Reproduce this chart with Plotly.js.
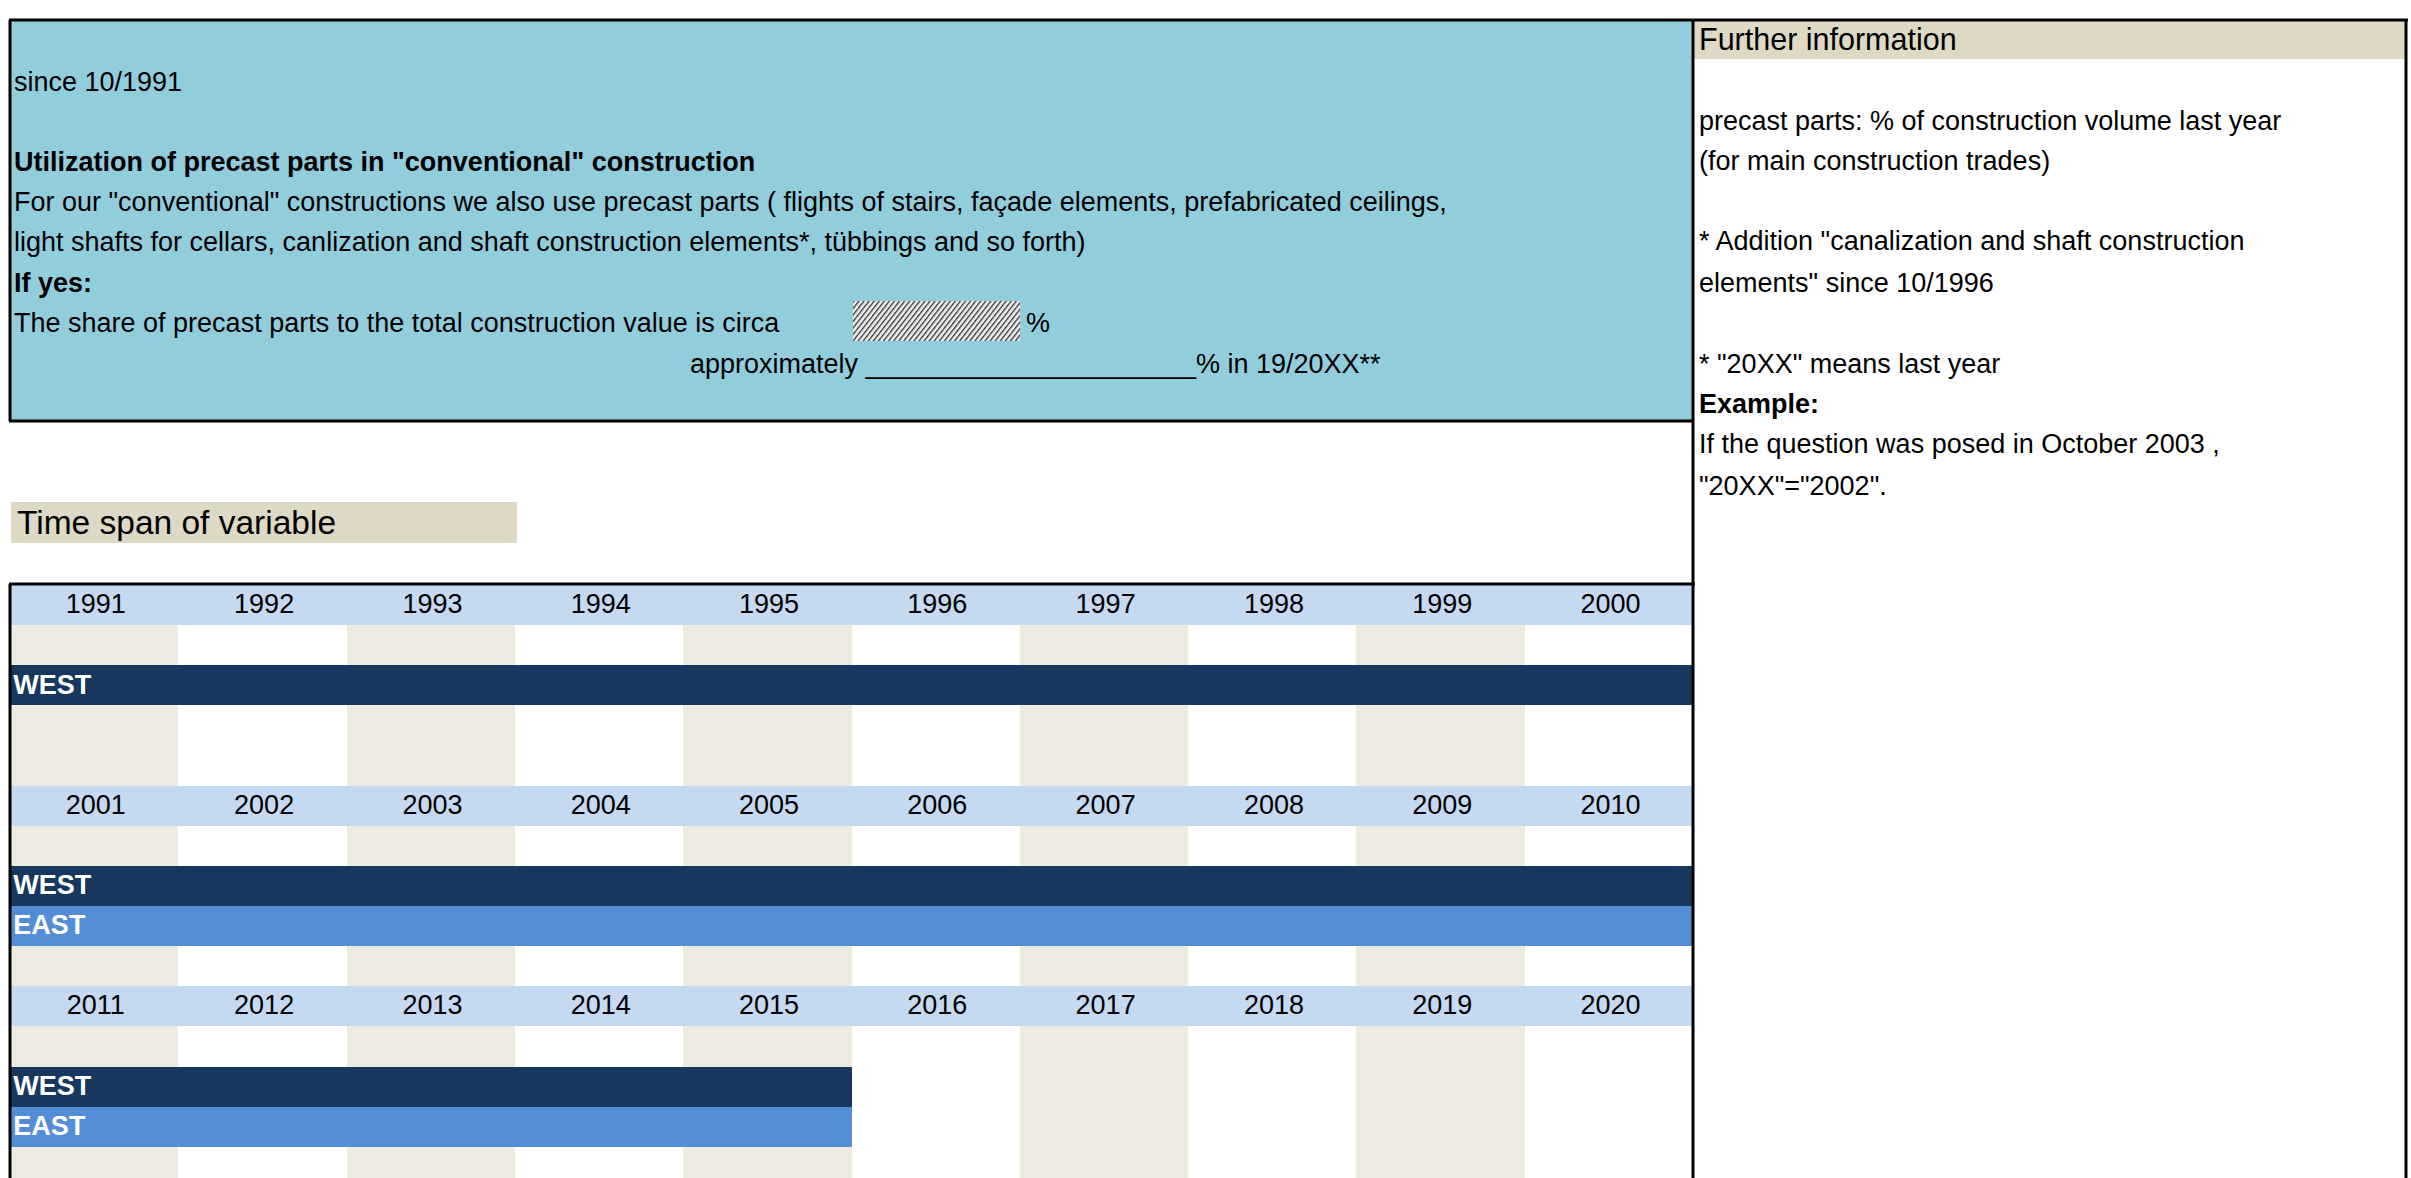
<!DOCTYPE html>
<html>
<head>
<meta charset="utf-8">
<script src="https://cdn.plot.ly/plotly-3.0.1.min.js"></script>
<style>html,body{margin:0;padding:0;background:#fff;}#chart{width:2411px;height:1178px;}</style>
</head>
<body>
<div id="chart"></div>
<script>
// ---- data ----
const yearsBlock1 = ['1991','1992','1993','1994','1995','1996','1997','1998','1999','2000'];
const yearsBlock2 = ['2001','2002','2003','2004','2005','2006','2007','2008','2009','2010'];
const yearsBlock3 = ['2011','2012','2013','2014','2015','2016','2017','2018','2019','2020'];
const seriesNames = ['WEST','EAST'];
const seriesStart = [1991, 2001];
const seriesEnd   = [2015, 2015];

// ---- styling ----
const W = 2411, H = 1178;
const FONT = 'Liberation Sans, Arial, sans-serif';
const BASE = 27;
const px = x => x / W, py = y => 1 - y / H;

const blocks = [yearsBlock1, yearsBlock2, yearsBlock3];
const rowsPerBlock = 5;
const nRows = blocks.length * rowsPerBlock;
const gridTop = 585, rowH = 40.1, gridLeft = 10, gridRight = 1693;
const visRows = (H - gridTop) / rowH;

// build cell matrix
const z = [];
for (let r = 0; r < nRows; r++) {
  const b = Math.floor(r / rowsPerBlock), off = r % rowsPerBlock;
  const row = [];
  for (let c = 0; c < 10; c++) {
    let v = (c % 2 === 0) ? 1 : 0;
    if (off === 0) v = 2;
    if (off === 2 || off === 3) {
      const s = off - 2;
      const yr = +blocks[b][c];
      if (yr >= seriesStart[s] && yr <= seriesEnd[s]) v = 3 + s;
    }
    row.push(v);
  }
  z.push(row);
}

const heat = {
  type: 'heatmap', z: z, x: [...Array(10).keys()], y: [...Array(nRows).keys()],
  zmin: 0, zmax: 4, showscale: false, hoverinfo: 'skip',
  colorscale: [[0,'#FFFFFF'],[0.125,'#FFFFFF'],[0.125,'#EEECE1'],[0.375,'#EEECE1'],
               [0.375,'#C5D9F1'],[0.625,'#C5D9F1'],[0.625,'#17375E'],[0.875,'#17375E'],
               [0.875,'#538DD5'],[1,'#538DD5']],
  xaxis: 'x', yaxis: 'y'
};

// year labels
const yx = [], yy = [], yt = [];
blocks.forEach((blk, b) => blk.forEach((lab, c) => { yx.push(c + 0.01); yy.push(b * rowsPerBlock + 0.03); yt.push(lab); }));
const yearText = {
  type: 'scatter', mode: 'text', x: yx, y: yy, text: yt, hoverinfo: 'skip',
  textfont: {family: FONT, size: BASE, color: '#000'}, textposition: 'middle center',
  showlegend: false, xaxis: 'x', yaxis: 'y'
};

// series labels
const lx = [], ly = [], lt = [];
blocks.forEach((blk, b) => {
  seriesNames.forEach((nm, s) => {
    const first = blk.findIndex(y => +y >= seriesStart[s] && +y <= seriesEnd[s]);
    if (first >= 0) { lx.push(first - 0.48); ly.push(b * rowsPerBlock + 2 + s + 0.04); lt.push('<b>' + nm + '</b>'); }
  });
});
const seriesText = {
  type: 'scatter', mode: 'text', x: lx, y: ly, text: lt, hoverinfo: 'skip',
  textfont: {family: FONT, size: BASE, color: '#FFFFFF'}, textposition: 'middle right',
  showlegend: false, xaxis: 'x', yaxis: 'y', cliponaxis: false
};

// ---- text annotations ----
function ann(text, x, y, size, extra) {
  return Object.assign({
    text: text, x: px(x), y: py(y), xref: 'paper', yref: 'paper',
    xanchor: 'left', yanchor: 'middle', showarrow: false,
    font: {family: FONT, size: size || BASE, color: '#000'}
  }, extra || {});
}
const annotations = [
  ann('since 10/1991', 12, 82),
  ann('<b>Utilization of precast parts in "conventional" construction</b>', 12, 162),
  ann('For our "conventional" constructions we also use precast parts ( flights of stairs, façade elements, prefabricated ceilings,', 12, 202),
  ann('light shafts for cellars, canlization and shaft construction elements*, tübbings and so forth)', 12, 242),
  ann('<b>If yes:</b>', 12, 283),
  ann('The share of precast parts to the total construction value is circa', 12, 323),
  ann('%', 1024, 323),
  ann('approximately ______________________% in 19/20XX**', 688, 364),
  ann('Further information', 1697, 39, 30.5),
  ann('precast parts: % of construction volume last year', 1697, 121),
  ann('(for main construction trades)', 1697, 161),
  ann('* Addition "canalization and shaft construction', 1697, 241),
  ann('elements" since 10/1996', 1697, 283),
  ann('* "20XX" means last year', 1697, 364),
  ann('<b>Example:</b>', 1697, 404),
  ann('If the question was posed in October 2003 ,', 1697, 444),
  ann('"20XX"="2002".', 1697, 486),
  ann('Time span of variable', 15, 522, 33.5)
];

// ---- decorative shapes ----
function rect(x0, y0, x1, y1, fill, lw, layer) {
  return {type: 'rect', xref: 'paper', yref: 'paper', x0: px(x0), x1: px(x1), y0: py(y1), y1: py(y0),
    fillcolor: fill || 'rgba(0,0,0,0)', line: {color: '#000', width: lw || 0}, layer: layer || 'above'};
}
function line(x0, y0, x1, y1, lw) {
  return {type: 'line', xref: 'paper', yref: 'paper', x0: px(x0), x1: px(x1), y0: py(y0), y1: py(y1),
    line: {color: '#000', width: lw}};
}
const shapes = [
  rect(10, 20, 1693, 421, '#92CDDC', 0, 'below'),
  rect(1694, 21, 2406, 59, '#DDD9C4', 0, 'below'),
  rect(11, 502, 517, 543, '#DDD9C4', 0, 'below'),
  line(9, 20, 2408, 20, 3),
  line(10, 20, 10, 421, 3),
  line(9, 421, 1693, 421, 3),
  line(1693, 19, 1693, 1178, 3),
  line(2406, 19, 2406, 1178, 3),
  line(9, 584, 1695, 584, 3),
  line(10, 584, 10, 1178, 3)
];

// hatched placeholder field
const hatchSvg = '<svg xmlns="http://www.w3.org/2000/svg" width="167" height="40">' +
  '<defs><pattern id="p" width="4" height="4" patternUnits="userSpaceOnUse" patternTransform="rotate(38)">' +
  '<rect width="4" height="4" fill="#eeeeee"/><rect x="0" y="0" width="1.3" height="4" fill="#333333"/></pattern></defs>' +
  '<rect width="167" height="40" fill="url(#p)"/></svg>';
const images = [{
  source: 'data:image/svg+xml;charset=utf-8,' + encodeURIComponent(hatchSvg),
  xref: 'paper', yref: 'paper', x: px(853), y: py(301), sizex: px(1020) - px(853), sizey: (341 - 301) / H,
  xanchor: 'left', yanchor: 'top', sizing: 'stretch', layer: 'above'
}];

const layout = {
  width: W, height: H, margin: {l: 0, r: 0, t: 0, b: 0},
  paper_bgcolor: '#FFFFFF', plot_bgcolor: '#FFFFFF', showlegend: false,
  xaxis: {domain: [px(gridLeft), px(gridRight)], range: [-0.5, 9.5], visible: false, fixedrange: true},
  yaxis: {domain: [0, py(gridTop)], range: [visRows - 0.5, -0.5], visible: false, fixedrange: true},
  annotations: annotations, shapes: shapes, images: images
};

Plotly.newPlot('chart', [heat, yearText, seriesText], layout, {staticPlot: true, displayModeBar: false});
</script>
</body>
</html>
